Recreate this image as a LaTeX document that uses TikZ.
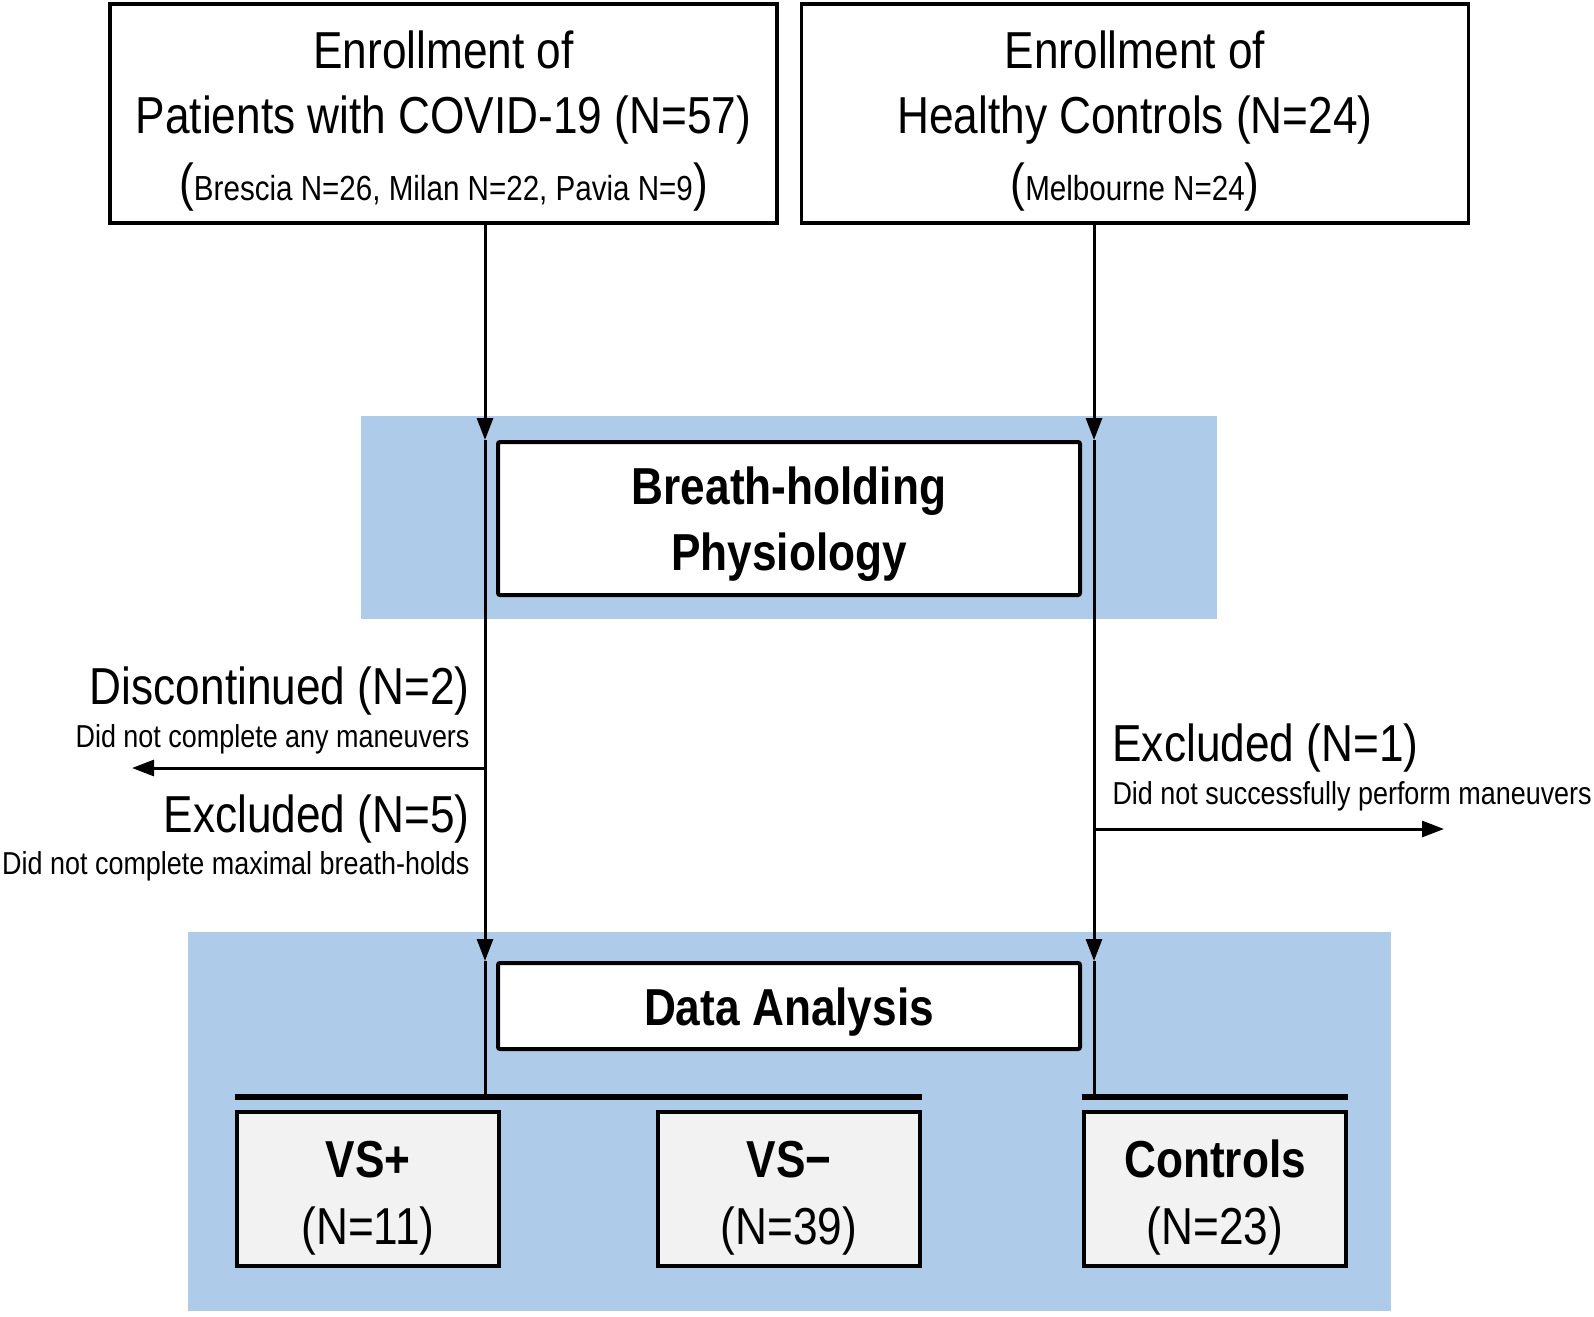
\documentclass[tikz,border=0pt]{standalone}
\usepackage{fontspec}
\setmainfont{Liberation Sans}[FakeStretch=0.85]
\usetikzlibrary{arrows.meta}

\definecolor{bandblue}{RGB}{174,204,233}
\definecolor{boxgray}{RGB}{242,242,242}
\newcommand{\fsbig}{\fontsize{26pt}{32.5pt}\selectfont}
\newcommand{\fssub}{\fontsize{17.4pt}{20pt}\selectfont}
\newcommand{\fsnote}{\fontsize{15.85pt}{19pt}\selectfont}
\newcommand{\lift}[1]{\rule{0pt}{#1}}

\tikzset{
  enrollbox/.style={draw, line width=1.75pt, align=center, minimum width=333.5pt, minimum height=109.5pt, inner sep=0pt, font=\fsbig},
  stagebox/.style={draw, fill=white, line width=2pt, rounded corners=1pt, align=center, minimum width=291pt, inner sep=0pt, font=\fontsize{26pt}{33pt}\selectfont\bfseries},
  groupbox/.style={draw, fill=boxgray, line width=2pt, align=center, minimum width=131pt, minimum height=77pt, inner sep=0pt, font=\fontsize{26pt}{33.5pt}\selectfont},
  note/.style={inner sep=0pt, font=\fsnote},
  count/.style={inner sep=0pt, font=\fsbig},
  flow/.style={-{Triangle[length=11pt,width=8pt]}},
  bar/.style={line width=3pt},
}

\begin{document}
\begin{tikzpicture}[x=0.5pt, y=-0.5pt, line width=1.5pt]
  \useasboundingbox (0,0) rectangle (1594,1316);

  % stages
  \fill[bandblue] (361,416) rectangle (1217,619);
  \fill[bandblue] (188,932) rectangle (1391,1311);

  \node[enrollbox] (covid) at (443.5,113.5) {\lift{26pt}Enrollment of\\Patients with COVID-19 (N=57)\\[1pt]({\fssub Brescia N=26, Milan N=22, Pavia N=9})};
  \node[enrollbox] (healthy) at (1135,113.5) {\lift{26pt}Enrollment of\\Healthy Controls (N=24)\\[1pt]({\fssub Melbourne N=24})};

  \node[stagebox, minimum height=76.5pt] (breath) at (789,518.5) {\lift{25pt}Breath-holding\\Physiology};
  \node[stagebox, minimum height=43pt, text height=19.5pt, text depth=0pt] (analysis) at (789,1006) {Data Analysis};

  \node[groupbox] (vsplus) at (368,1189) {\lift{27.5pt}\textbf{VS+}\\(N=11)};
  \node[groupbox] (vsminus) at (789,1189) {\lift{27.5pt}\textbf{VS−}\\(N=39)};
  \node[groupbox] (ctrl) at (1215,1189) {\lift{27.5pt}\textbf{Controls}\\(N=23)};

  \coordinate (jL) at (485,1099);
  \coordinate (jR) at (1094,1099);
  \coordinate (dropL) at (132,768);
  \coordinate (dropR) at (1444,829);

  % patients
  \draw[flow] (covid.south -| jL) -- (breath.north -| jL);
  \draw[flow] (breath.north -| jL) -- (analysis.north -| jL);
  \draw (analysis.north -| jL) -- (jL);
  \draw[flow] (dropL -| jL) -- (dropL);
  \node[count, anchor=base east] (disc) at (471,704) {Discontinued (N=2)};
  \node[note, anchor=base east] (discwhy) at (471,747) {Did not complete any maneuvers};
  \node[count, anchor=base east] (exclL) at (471,832) {Excluded (N=5)};
  \node[note, anchor=base east] (exclLwhy) at (471,874) {Did not complete maximal breath-holds};

  % controls
  \draw[flow] (healthy.south -| jR) -- (breath.north -| jR);
  \draw[flow] (breath.north -| jR) -- (analysis.north -| jR);
  \draw (analysis.north -| jR) -- (jR);
  \draw[flow] (dropR -| jR) -- (dropR);
  \node[count, anchor=base west] (exclR) at (1111,761) {Excluded (N=1)};
  \node[note, anchor=base west] (exclRwhy) at (1111,804) {Did not successfully perform maneuvers};

  \draw[bar] ([yshift=6.5pt]vsplus.north west) -- ([yshift=6.5pt]vsminus.north east);
  \draw[bar] ([yshift=6.5pt]ctrl.north west) -- ([yshift=6.5pt]ctrl.north east);

\end{tikzpicture}
\end{document}
